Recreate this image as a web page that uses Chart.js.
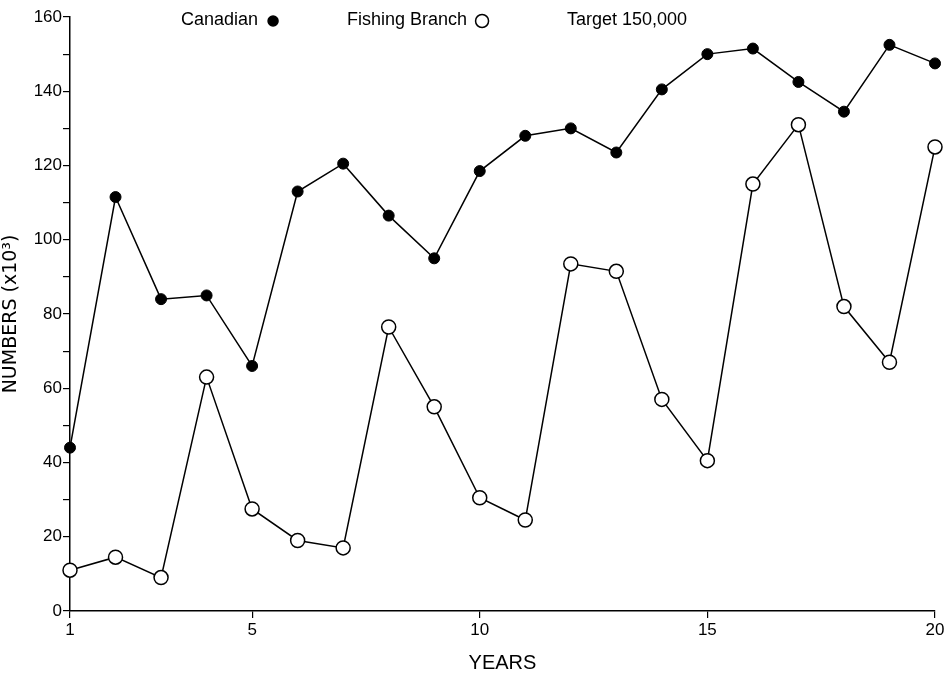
<!DOCTYPE html>
<html lang="en">
<head>
    <meta charset="UTF-8">
    <title>Canadian vs Fishing Branch</title>
    <style>
        * { margin: 0; padding: 0; box-sizing: border-box; }
        body { background: #fff; width: 950px; height: 675px; overflow: hidden; }
        .chart-container { position: relative; width: 950px; height: 675px; }
    </style>
</head>
<body>

<div class="chart-container">
    <canvas id="lineChart"></canvas>
</div>

<script src="https://cdn.jsdelivr.net/npm/chart.js"></script>
<script>
    // data (numbers x10^3)
    const years = [1, 2, 3, 4, 5, 6, 7, 8, 9, 10, 11, 12, 13, 14, 15, 16, 17, 18, 19, 20];
    const canadian = [44, 111.5, 84, 85, 66, 113, 120.5, 106.5, 95, 118.5, 128, 130, 123.5, 140.5, 150, 151.5, 142.5, 134.5, 152.5, 147.5];
    const fishingBranch = [11, 14.5, 9, 63, 27.5, 19, 17, 76.5, 55, 30.5, 24.5, 93.5, 91.5, 57, 40.5, 115, 131, 82, 67, 125];
    const xTicks = [1, 5, 10, 15, 20];
    const yTicks = [0, 10, 20, 30, 40, 50, 60, 70, 80, 90, 100, 110, 120, 130, 140, 150, 160];
    const targetNote = "Target 150,000";

    const toPoints = arr => arr.map((v, i) => ({ x: years[i], y: v }));
    const font = "'Liberation Sans', Arial, sans-serif";

    // legend written in the top margin: label text followed by its marker
    const topLegend = {
        id: "topLegend",
        afterDraw(chart) {
            const ctx = chart.ctx;
            ctx.save();
            ctx.font = "18px " + font;
            ctx.fillStyle = "#000";
            ctx.textBaseline = "middle";
            const y = 20;
            const spots = [181, 347];
            const sizes = [5, 6.5];
            chart.data.datasets.forEach((ds, i) => {
                const x = spots[i];
                ctx.fillText(ds.label, x, y);
                const w = ctx.measureText(ds.label).width;
                ctx.beginPath();
                ctx.arc(x + w + 15, y + 1, sizes[i], 0, Math.PI * 2);
                ctx.fillStyle = ds.pointBackgroundColor;
                ctx.fill();
                ctx.lineWidth = 1.5;
                ctx.strokeStyle = "#000";
                ctx.stroke();
                ctx.fillStyle = "#000";
            });
            ctx.fillText(targetNote, 567, y);
            ctx.restore();
        }
    };

    const ctx = document.getElementById("lineChart").getContext("2d");
    new Chart(ctx, {
        type: "scatter",
        data: {
            datasets: [
                {
                    label: "Canadian",
                    data: toPoints(canadian),
                    showLine: true,
                    clip: false,
                    borderColor: "#000",
                    borderWidth: 1.5,
                    pointRadius: 5.5,
                    pointBackgroundColor: "#000",
                    pointBorderColor: "#000",
                    pointBorderWidth: 1
                },
                {
                    label: "Fishing Branch",
                    data: toPoints(fishingBranch),
                    showLine: true,
                    clip: false,
                    borderColor: "#000",
                    borderWidth: 1.5,
                    pointRadius: 7,
                    pointBackgroundColor: "#fff",
                    pointBorderColor: "#000",
                    pointBorderWidth: 1.5
                }
            ]
        },
        options: {
            responsive: true,
            maintainAspectRatio: false,
            animation: false,
            layout: { padding: { top: 17, right: 15, left: 0, bottom: 0 } },
            plugins: {
                legend: { display: false },
                tooltip: { enabled: false }
            },
            scales: {
                x: {
                    type: "linear",
                    min: 1,
                    max: 20,
                    afterBuildTicks: scale => { scale.ticks = xTicks.map(v => ({ value: v })); },
                    afterFit: scale => { scale.height = 64; },
                    border: { display: true, color: "#000", width: 1.5 },
                    grid: { drawOnChartArea: false, drawTicks: true, tickLength: 7, color: "#000", lineWidth: 1.2 },
                    ticks: { color: "#000", font: { size: 17, family: font }, padding: 2, maxRotation: 0 },
                    title: { display: true, text: "YEARS", color: "#000", font: { size: 20, family: font }, padding: { top: 2, bottom: 0 } }
                },
                y: {
                    min: 0,
                    max: 160,
                    afterBuildTicks: scale => { scale.ticks = yTicks.map(v => ({ value: v })); },
                    afterFit: scale => { scale.width = 70; },
                    border: { display: true, color: "#000", width: 1.5 },
                    grid: { drawOnChartArea: false, drawTicks: true, tickLength: 7, color: "#000", lineWidth: 1.2 },
                    ticks: {
                        color: "#000",
                        font: { size: 17, family: font },
                        padding: 1,
                        callback: v => (v % 20 === 0 ? v : "")
                    },
                    title: { display: true, text: "NUMBERS (x10\u00B3)", color: "#000", font: { size: 19, family: "'DejaVu Sans', sans-serif" }, padding: { top: 0, bottom: 4 } }
                }
            }
        },
        plugins: [topLegend]
    });
</script>

</body>
</html>
